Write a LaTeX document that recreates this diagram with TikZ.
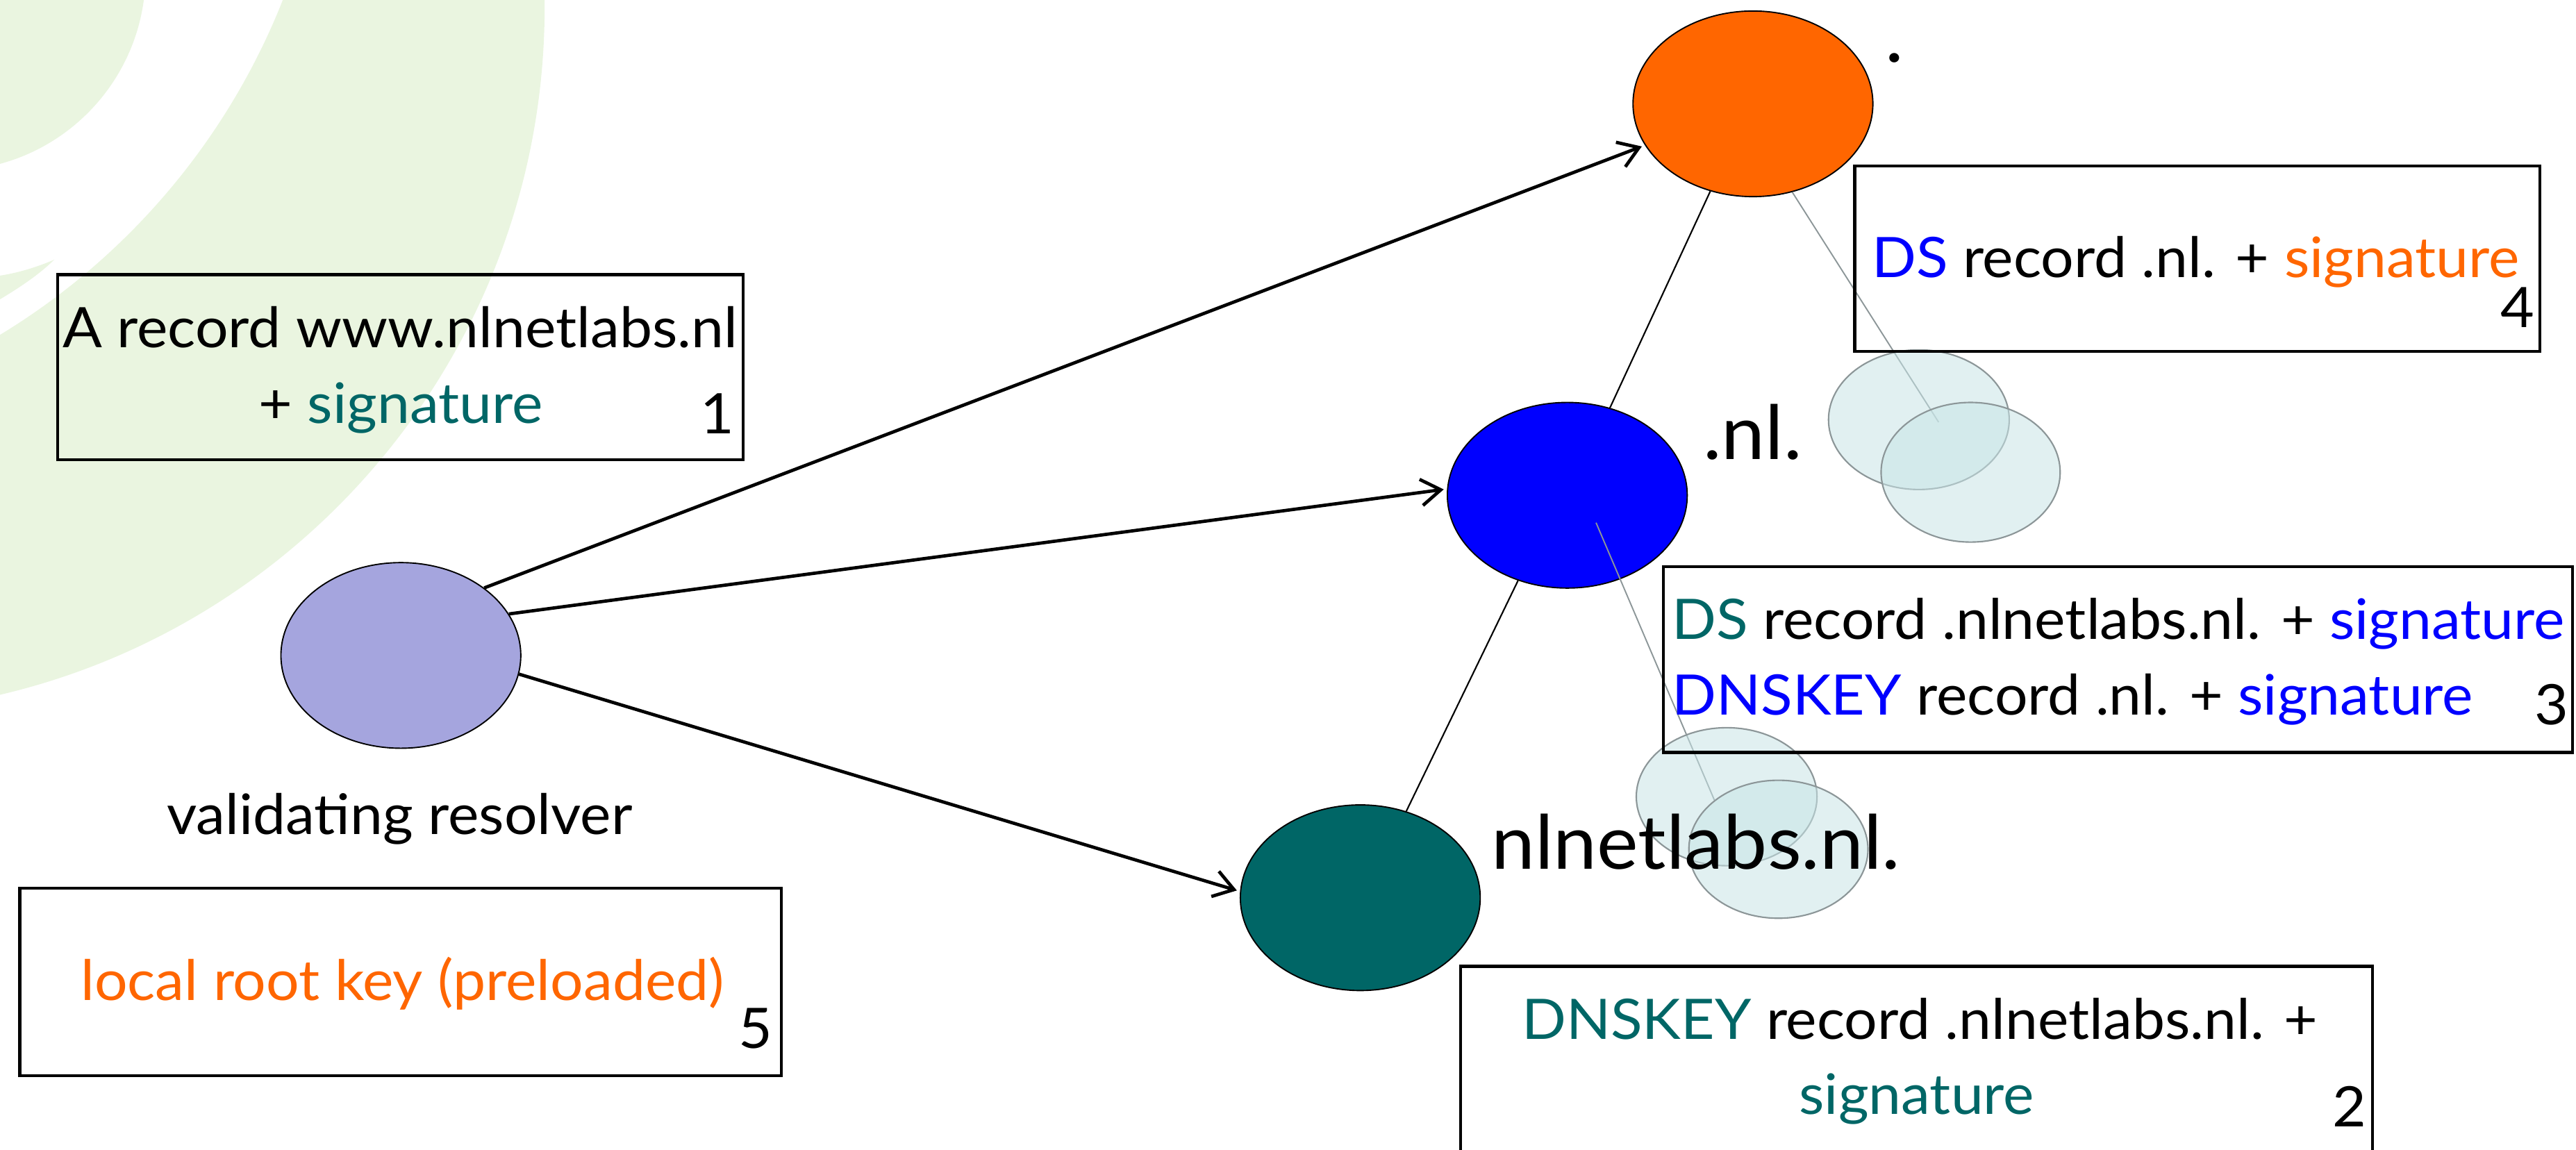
\documentclass[tikz,border=0pt]{standalone}
\usepackage{fontspec}
\setmainfont[FakeStretch=1.045]{Lato}
\usetikzlibrary{shapes.geometric,arrows.meta}

\definecolor{rootorange}{RGB}{255,102,0}
\definecolor{nlblue}{RGB}{0,0,255}
\definecolor{labteal}{RGB}{0,102,102}
\definecolor{reslilac}{RGB}{165,165,222}
\definecolor{bggreen}{RGB}{234,245,224}
\definecolor{keycyan}{RGB}{200,228,230}
\definecolor{keygrey}{RGB}{140,150,152}

\tikzset{every picture/.style={line width=0.75pt},
  zone/.style={ellipse, draw, line width=0.4pt, minimum width=73pt, minimum height=56.5pt, inner sep=0pt},
  query/.style={line width=1pt, -{Straight Barb[length=6pt,width=8pt]}, shorten >=1pt},
  treeline/.style={line width=0.45pt},
  keyline/.style={draw=keygrey, line width=0.4pt},
  keyring/.style={draw=keygrey, line width=0.45pt, fill=keycyan, fill opacity=0.55},
  recbox/.style={line width=0.9pt},
  rectext/.style={inner sep=0pt, anchor=base, font=\fontsize{17}{20}\selectfont},
  zonetext/.style={inner sep=0pt, anchor=base west, font=\fontsize{22.8}{26}\selectfont}}

\begin{document}
\begin{tikzpicture}[x=0.5pt,y=0.5pt,yscale=-1,xscale=1]
    \useasboundingbox (0,0) rectangle (1568,700);

    %Shape: background arcs
    \begin{scope}
      \clip (0,0) rectangle (1568,700);
      \fill [bggreen] (-98.5,4.3) circle [radius=215pt];
      \fill [white] (-216.5,-153.5) circle [radius=208.85pt];
      \fill [bggreen] (-31.4,-16.1) circle [radius=60pt];
      \fill [bggreen] (0,167.8) .. controls (12,166) and (24,162) .. (33,158.1)
                    .. controls (24,167) and (12,175) .. (0,182.2) -- cycle;
    \end{scope}

    %Shape: Ellipse resolver and zones
    \node [zone, fill=reslilac]   (res)       at ( 244, 399  ) {};
    \node [zone, fill=rootorange] (root)      at (1067,  63.2) {};
    \node [zone, fill=nlblue]     (nl)        at ( 954, 301.5) {};
    \node [zone, fill=labteal]    (nlnetlabs) at ( 828, 546.5) {};
    \node [rectext] (resname) at (243.3, 508) {validating resolver};

    %Arrows: queries
    \draw [query] (res.39.5) -- (root.201.5);
    \draw [query] (res.21.8) -- (nl.177);
    \draw [query] (res.-9.9) -- (nlnetlabs.177.5);

    %Lines: delegation
    \draw [treeline] (root.244.7) -- (nl.64.3);
    \draw [treeline] (nl.240) -- (nlnetlabs.62);

    %Lines: key pointers
    \coordinate (rootkey)   at (1180  , 257  );
    \coordinate (nlkeyfrom) at ( 971.5, 318.2);
    \coordinate (nlkey)     at (1043.5, 487  );
    \draw [keyline] (root.294.5) -- (rootkey);
    \draw [keyline] (nlkeyfrom) -- (nlkey);

    %Shape: keys
    \draw [keyring] (1168  , 255.5) ellipse [x radius=27.5pt,  y radius=21.25pt];
    \draw [keyring] (1199.5, 287.5) ellipse [x radius=27.25pt, y radius=21.25pt];
    \draw [keyring] (1051  , 485  ) ellipse [x radius=27.5pt,  y radius=21pt];
    \draw [keyring] (1082.5, 517  ) ellipse [x radius=27.25pt, y radius=21pt];

    %Text: zone names
    \node [zonetext] (rootname)      at (1147,  38  ) {.};
    \node [zonetext] (nlname)        at (1036, 279.7) {.nl.};
    \node [zonetext] (nlnetlabsname) at ( 907, 529.2) {nlnetlabs.nl.};

    %Shape: Rectangle records
    \draw [recbox] (  35  , 167.2) rectangle ( 452.4, 279.9);
    \draw [recbox] ( 889  , 588.3) rectangle (1444  , 706  );
    \draw [recbox] (1012.5, 345  ) rectangle (1566  , 458  );
    \draw [recbox] (1129  , 101  ) rectangle (1546  , 214  );
    \draw [recbox] (  12  , 540.6) rectangle ( 475.6, 654.8);

    %Text: record 1
    \node [rectext] (rec1a) at (243.5, 211.4) {A record www.nlnetlabs.nl};
    \node [rectext] (rec1b) at (244  , 257.5) {+ \textcolor{labteal}{signature}};
    \node [rectext] (num1)  at (436.5, 264  ) {1};

    %Text: record 2
    \node [rectext] (rec2a) at (1168.6, 632.7) {\textcolor{labteal}{DNSKEY} record .nlnetlabs.nl. +};
    \node [rectext] (rec2b) at (1166.7, 678.5) {\textcolor{labteal}{signature}};
    \node [rectext] (num2)  at (1430  , 685.8) {2};

    %Text: record 3
    \node [rectext, anchor=base west] (rec3a) at (1017, 389  ) {\textcolor{labteal}{DS} record .nlnetlabs.nl. + \textcolor{nlblue}{signature}};
    \node [rectext, anchor=base west] (rec3b) at (1017, 435.4) {\textcolor{nlblue}{DNSKEY} record .nl. + \textcolor{nlblue}{signature}};
    \node [rectext] (num3)  at (1553, 441) {3};

    %Text: record 4
    \node [rectext] (rec4) at (1336.5, 169  ) {\textcolor{nlblue}{DS} record .nl. + \textcolor{rootorange}{signature}};
    \node [rectext] (num4) at (1532.5, 199.5) {4};

    %Text: record 5
    \node [rectext] (rec5) at (245, 609) {\textcolor{rootorange}{local root key (preloaded)}};
    \node [rectext] (num5) at (460, 638) {5};
\end{tikzpicture}
\end{document}
